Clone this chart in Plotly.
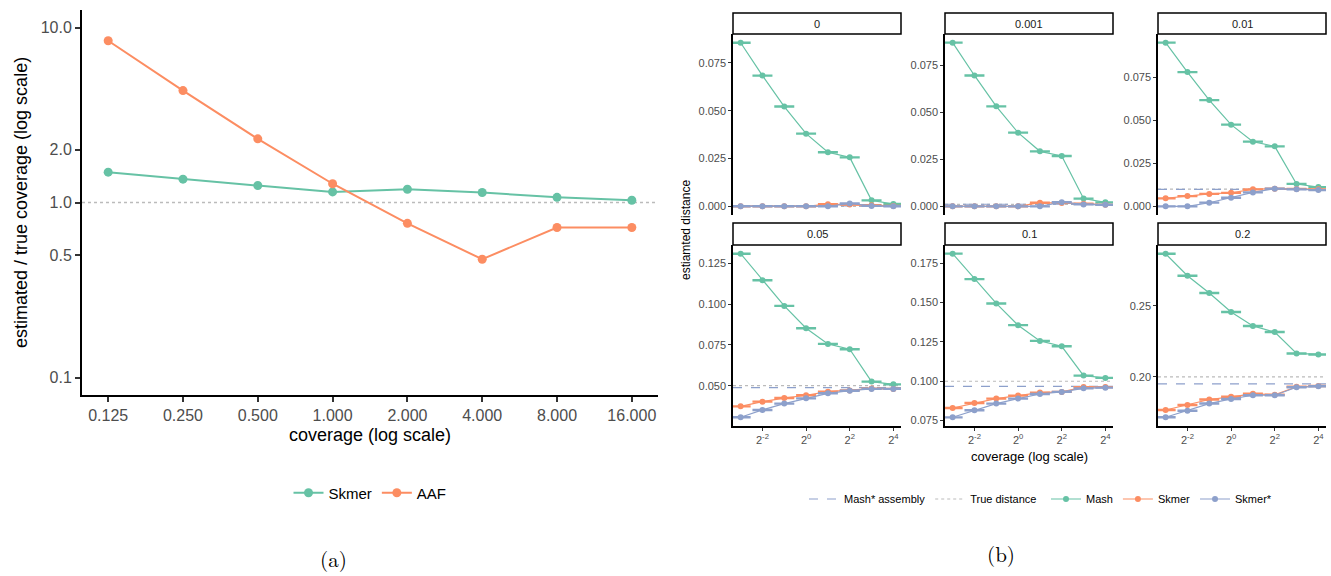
import plotly.graph_objects as go

W, H = 1331, 576

# ---------------- Panel (a) data ----------------
cov_a = [0.125, 0.25, 0.5, 1, 2, 4, 8, 16]
cov_a_labels = ["0.125", "0.250", "0.500", "1.000", "2.000", "4.000", "8.000", "16.000"]
skmer_ratio = [1.49, 1.36, 1.25, 1.15, 1.19, 1.14, 1.07, 1.03]
aaf_ratio = [8.4, 4.36, 2.31, 1.28, 0.76, 0.474, 0.72, 0.72]
ratio_ticks = [0.1, 0.5, 1.0, 2.0, 10.0]
ratio_tick_labels = ["0.1", "0.5", "1.0", "2.0", "10.0"]

# ---------------- Panel (b) data ----------------
cov_b = [0.125, 0.25, 0.5, 1, 2, 4, 8, 16]
facet_names = ["0", "0.001", "0.01", "0.05", "0.1", "0.2"]
true_dist = [0.0, 0.001, 0.01, 0.05, 0.1, 0.2]
mash_assembly = [0.0002, 0.0011, 0.0099, 0.0488, 0.0968, 0.195]
mash = [
    [0.0856, 0.0684, 0.0522, 0.0380, 0.0283, 0.0256, 0.0031, 0.0012],
    [0.0869, 0.0695, 0.0531, 0.0391, 0.0292, 0.0267, 0.0041, 0.0021],
    [0.0952, 0.0781, 0.0618, 0.0475, 0.0376, 0.0349, 0.0130, 0.0112],
    [0.1309, 0.1146, 0.0989, 0.0852, 0.0756, 0.0723, 0.0525, 0.0508],
    [0.1810, 0.1649, 0.1494, 0.1356, 0.1256, 0.1222, 0.1036, 0.1021],
    [0.2868, 0.2713, 0.2591, 0.2457, 0.2359, 0.2316, 0.2165, 0.2158],
]
skmer = [
    [0.0, 0.0, 0.0, 0.0, 0.0011, 0.0009, 0.0006, 0.0002],
    [0.0, 0.0, 0.0, 0.0, 0.0019, 0.0018, 0.0014, 0.0008],
    [0.0047, 0.0060, 0.0072, 0.0079, 0.0099, 0.0103, 0.0101, 0.0099],
    [0.0373, 0.0402, 0.0424, 0.0441, 0.0463, 0.0471, 0.0482, 0.0480],
    [0.0830, 0.0862, 0.0890, 0.0909, 0.0928, 0.0932, 0.0963, 0.0963],
    [0.1766, 0.1801, 0.1840, 0.1859, 0.1880, 0.1873, 0.1930, 0.1935],
]
skmer_star = [
    [0.0, 0.0, 0.0, 0.0, 0.0, 0.0015, 0.0002, 0.0],
    [0.0, 0.0, 0.0, 0.0, 0.0, 0.0022, 0.0010, 0.0008],
    [0.0, 0.0, 0.0021, 0.0050, 0.0081, 0.0103, 0.0099, 0.0095],
    [0.0306, 0.0351, 0.0390, 0.0422, 0.0453, 0.0469, 0.0480, 0.0480],
    [0.0771, 0.0816, 0.0858, 0.0890, 0.0919, 0.0932, 0.0955, 0.0959],
    [0.1715, 0.1761, 0.1811, 0.1844, 0.1870, 0.1870, 0.1926, 0.1933],
]
err_sd = [0.00025, 0.00025, 0.00025, 0.0003, 0.0003, 0.0004]
cov_b_ticks = [0.25, 1, 4, 16]
cov_b_tick_labels = ["2<sup>-2</sup>", "2<sup>0</sup>", "2<sup>2</sup>", "2<sup>4</sup>"]
facet_ticks = [
    [0.0, 0.025, 0.05, 0.075],
    [0.0, 0.025, 0.05, 0.075],
    [0.0, 0.025, 0.05, 0.075],
    [0.05, 0.075, 0.1, 0.125],
    [0.075, 0.1, 0.125, 0.15, 0.175],
    [0.2, 0.25],
]
facet_fmt = ["{:.3f}", "{:.3f}", "{:.3f}", "{:.3f}", "{:.3f}", "{:.2f}"]

GREEN, ORANGE, BLUE = "#66C2A5", "#FC8D62", "#8DA0CB"
FONT = "Liberation Sans, Arial, sans-serif"
TICKC = "#4D4D4D"


def px(x):
    return x / W


def py(y):
    return 1 - y / H


LOG2 = 0.30102999566
xr_log = [-3.35 * LOG2, 4.35 * LOG2]

fig = go.Figure()

# ---------- Panel (a) ----------
fig.add_trace(go.Scatter(x=cov_a, y=skmer_ratio, mode="lines+markers", name="Skmer",
                         line=dict(color=GREEN, width=2), marker=dict(color=GREEN, size=9),
                         xaxis="x", yaxis="y", legend="legend"))
fig.add_trace(go.Scatter(x=cov_a, y=aaf_ratio, mode="lines+markers", name="AAF",
                         line=dict(color=ORANGE, width=2), marker=dict(color=ORANGE, size=9),
                         xaxis="x", yaxis="y", legend="legend"))

layout = dict(
    width=W, height=H, margin=dict(l=0, r=0, t=0, b=0),
    paper_bgcolor="white", plot_bgcolor="white",
    font=dict(family=FONT, color="black"),
)
layout["xaxis"] = dict(
    domain=[px(82), px(658)], type="log", range=xr_log,
    tickvals=cov_a, ticktext=cov_a_labels, showline=True, linecolor="black", linewidth=2,
    ticks="outside", ticklen=5, tickcolor="#333333", tickwidth=1.5,
    showgrid=False, zeroline=False, tickfont=dict(size=16, color=TICKC), anchor="y",
)
layout["yaxis"] = dict(
    domain=[py(395), py(10)], type="log", range=[-1.1, 1.1],
    tickvals=ratio_ticks, ticktext=ratio_tick_labels, showline=True, linecolor="black", linewidth=2,
    ticks="outside", ticklen=5, tickcolor="#333333", tickwidth=1.5,
    showgrid=False, zeroline=False, tickfont=dict(size=16, color=TICKC), anchor="x",
)

shapes = [dict(type="line", xref="x domain", x0=0, x1=1, yref="y", y0=1, y1=1,
               line=dict(color="#BBBBBB", width=1.5, dash="dot"), layer="below")]


def ann(text, x, y, size, angle=0, family=None, color="black"):
    f = dict(size=size, color=color)
    if family:
        f["family"] = family
    return dict(text=text, x=px(x), y=py(y), xref="paper", yref="paper", xanchor="center",
                yanchor="middle", textangle=angle, showarrow=False, font=f)


SERIF = "Latin Modern Roman, Liberation Serif, DejaVu Serif, serif"
annotations = [
    ann("estimated / true coverage (log scale)", 21, 203, 18, angle=-90),
    ann("coverage (log scale)", 370, 435, 18),
    ann("(a)", 334, 558, 21, family=SERIF),
    ann("(b)", 1001, 553, 21, family=SERIF),
    ann("estiamted distance", 686, 230, 12, angle=-90),
    ann("coverage (log scale)", 1029, 456, 13),
]

# ---------- Panel (b) facets ----------
cols = [(733, 901), (945, 1113), (1158, 1326)]
rows = [(34, 215), (245, 426)]
strips = [(13, 34), (223, 245)]

for i, name in enumerate(facet_names):
    c, r = i % 3, i // 3
    n = i + 2
    xa, ya = f"x{n}", f"y{n}"
    series = [("Mash", mash[i], GREEN), ("Skmer", skmer[i], ORANGE), ("Skmer*", skmer_star[i], BLUE)]
    for sname, vals, col in series:
        fig.add_trace(go.Scatter(
            x=cov_b, y=vals, mode="lines+markers", name=sname,
            line=dict(color=col, width=1.2), marker=dict(color=col, size=6),
            error_y=dict(type="constant", value=err_sd[i], width=10, color=col, thickness=1.4),
            xaxis=xa, yaxis=ya, legend="legend3", showlegend=(i == 0), legendgroup=sname,
        ))
    allv = mash[i] + skmer[i] + skmer_star[i] + [true_dist[i], mash_assembly[i]]
    lo, hi = min(allv) - err_sd[i], max(allv) + err_sd[i]
    pad = 0.05 * (hi - lo)
    bottom = (r == 1)
    layout[f"xaxis{n}"] = dict(
        domain=[px(cols[c][0]), px(cols[c][1])], type="log", range=xr_log,
        tickvals=cov_b_ticks, ticktext=cov_b_tick_labels,
        showticklabels=bottom, ticks="outside" if bottom else "", ticklen=3,
        tickcolor="#333333", showline=bottom, linecolor="black", linewidth=1.5,
        showgrid=False, zeroline=False, tickfont=dict(size=11, color=TICKC), anchor=ya,
    )
    layout[f"yaxis{n}"] = dict(
        domain=[py(rows[r][1]), py(rows[r][0])], range=[lo - pad, hi + pad],
        tickvals=facet_ticks[i], ticktext=[facet_fmt[i].format(v) for v in facet_ticks[i]],
        ticks="outside", ticklen=3, tickcolor="#333333", showline=True, linecolor="black",
        linewidth=1.5, showgrid=False, zeroline=False, tickfont=dict(size=11, color=TICKC), anchor=xa,
    )
    shapes.append(dict(type="line", xref=f"{xa} domain", x0=0, x1=1, yref=ya,
                       y0=true_dist[i], y1=true_dist[i],
                       line=dict(color="#BBBBBB", width=1.2, dash="dot"), layer="below"))
    shapes.append(dict(type="line", xref=f"{xa} domain", x0=0, x1=1, yref=ya,
                       y0=mash_assembly[i], y1=mash_assembly[i],
                       line=dict(color=BLUE, width=1.2, dash="dash"), layer="below"))
    # strip
    shapes.append(dict(type="rect", xref="paper", yref="paper",
                       x0=px(cols[c][0]), x1=px(cols[c][1]), y0=py(strips[r][1]), y1=py(strips[r][0]),
                       line=dict(color="black", width=1.5), fillcolor="white"))
    annotations.append(ann(name, (cols[c][0] + cols[c][1]) / 2, (strips[r][0] + strips[r][1]) / 2,
                           11, color="#1A1A1A"))

# legend entries for reference lines
fig.add_trace(go.Scatter(x=[None], y=[None], mode="lines", name="Mash* assembly",
                         line=dict(color=BLUE, width=1.2, dash="dash"), xaxis="x2", yaxis="y2",
                         legend="legend2"))
fig.add_trace(go.Scatter(x=[None], y=[None], mode="lines", name="True distance",
                         line=dict(color="#BBBBBB", width=1.2, dash="dot"), xaxis="x2", yaxis="y2",
                         legend="legend2"))

layout["shapes"] = shapes
layout["annotations"] = annotations
layout["legend"] = dict(orientation="h", x=px(370), y=py(493), xanchor="center", yanchor="middle",
                        font=dict(size=15), bgcolor="rgba(0,0,0,0)")
layout["legend2"] = dict(orientation="h", x=px(804), y=py(499), xanchor="left", yanchor="middle",
                         font=dict(size=11), bgcolor="rgba(0,0,0,0)")
layout["legend3"] = dict(orientation="h", x=px(1046), y=py(499), xanchor="left", yanchor="middle",
                         font=dict(size=11), bgcolor="rgba(0,0,0,0)", tracegroupgap=0)

fig.update_layout(**layout)
fig.write_html("out.html", config={"displayModeBar": False},
               post_script="document.body.style.margin='0px';")
